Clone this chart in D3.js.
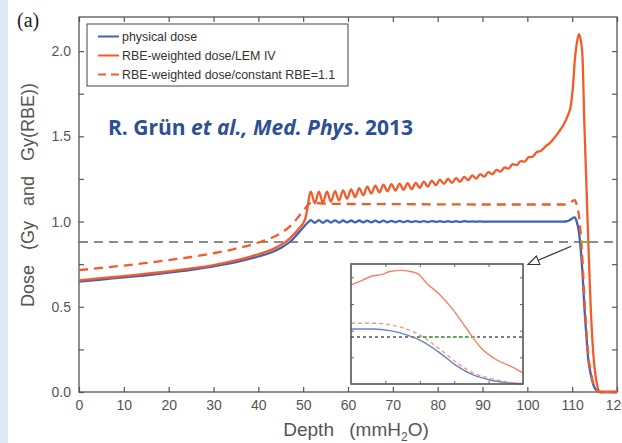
<!DOCTYPE html>
<html>
<head>
<meta charset="utf-8">
<script src="https://cdn.jsdelivr.net/npm/d3@7"></script>
<style>
  body { margin: 0; background: #fff; }
  svg text { font-family: "Liberation Sans", Arial, sans-serif; }
</style>
</head>
<body>
<div id="chart"></div>
<script>
// depth grid shared by physical dose and LEM IV curves (mm H2O)
var depth = [0, 5, 10, 15, 20, 25, 30, 35, 40, 43, 45, 47, 48, 49, 50, 50.5, 51, 51.3,
  51.7, 52.6, 53.5, 54.4, 55.3, 56.2, 57.1, 58.0, 58.9, 59.8,
  60.7, 61.6, 62.5, 63.4, 64.3, 65.2, 66.1, 67.0, 67.9, 68.8,
  69.7, 70.6, 71.5, 72.4, 73.3, 74.2, 75.1, 76.0, 76.9, 77.8,
  78.7, 79.6, 80.5, 81.4, 82.3, 83.2, 84.1, 85.0, 85.9, 86.8,
  87.7, 88.6, 89.5, 90.4, 91.3, 92.2, 93.1, 94.0, 94.9, 95.8,
  96.7, 97.6, 98.5, 99.4, 100.3, 101.2, 102.1, 103.0,
  104, 105, 106, 107, 108, 109, 109.7, 110.2, 110.6, 111.0, 111.5, 112.0, 112.3, 112.7,
  113.2, 113.6, 114.1, 114.7, 115.5, 116.2, 117, 120];

var physical = [0.647, 0.66, 0.672, 0.685, 0.70, 0.717, 0.737, 0.762, 0.795, 0.82, 0.845, 0.88, 0.905, 0.935, 0.965, 0.98, 0.993, 1.0,
  1.008, 0.993, 1.008, 0.993, 1.007, 0.994, 1.007, 0.994, 1.006, 0.995,
  1.006, 0.995, 1.006, 0.995, 1.005, 0.995, 1.005, 0.996, 1.005, 0.996,
  1.004, 0.996, 1.004, 0.997, 1.004, 0.997, 1.003, 0.997, 1.003, 0.997,
  1.003, 0.998, 1.002, 0.998, 1.002, 0.998, 1.002, 0.998, 1.002, 0.999,
  1.001, 0.999, 1.001, 0.999, 1.0, 1.0, 1.0, 1.0, 1.0, 1.0,
  1.0, 1.0, 1.0, 1.0, 1.0, 1.0, 1.0, 1.0,
  1.0, 1.0, 1.0, 1.0, 1.0, 1.003, 1.012, 1.022, 1.025, 1.0, 0.94, 0.81, 0.70, 0.51,
  0.32, 0.19, 0.11, 0.045, 0.008, 0, 0, 0];

var lemIV = [0.655, 0.668, 0.68, 0.694, 0.708, 0.725, 0.745, 0.772, 0.808, 0.835, 0.862, 0.9, 0.927, 0.958, 0.99, 1.02, 1.085, 1.14,
  1.175, 1.107, 1.175, 1.111, 1.175, 1.116, 1.178, 1.124, 1.183, 1.134,
  1.188, 1.144, 1.196, 1.154, 1.204, 1.164, 1.211, 1.171, 1.216, 1.177,
  1.22, 1.181, 1.222, 1.186, 1.225, 1.19, 1.227, 1.197, 1.234, 1.205,
  1.24, 1.213, 1.246, 1.221, 1.25, 1.227, 1.255, 1.233, 1.262, 1.243,
  1.27, 1.252, 1.278, 1.263, 1.29, 1.278, 1.303, 1.293, 1.317, 1.31,
  1.336, 1.331, 1.355, 1.351, 1.378, 1.381, 1.408, 1.414,
  1.44, 1.46, 1.49, 1.525, 1.565, 1.62, 1.68, 1.80, 1.95, 2.04, 2.10, 2.05, 1.97, 1.59,
  1.20, 0.88, 0.52, 0.23, 0.05, 0, 0, 0];

// constant RBE = 1.1 curve, own grid
var constDepth = [0, 5, 10, 15, 20, 25, 30, 35, 40, 43, 45, 47, 48, 49, 50, 50.5, 51, 51.5, 52, 55, 60, 70, 80, 90, 100, 105, 108,
  109, 109.7, 110.2, 110.6, 111.0, 111.5, 112.0, 112.3, 112.7, 113.2, 113.6, 114.1, 114.7, 115.5, 116.2, 120];
var constRBE = [0.715, 0.728, 0.742, 0.757, 0.774, 0.792, 0.814, 0.841, 0.877, 0.905, 0.932, 0.97, 0.997, 1.03, 1.063, 1.08, 1.095, 1.107, 1.11, 1.105, 1.103, 1.102, 1.101, 1.1, 1.1, 1.1, 1.1,
  1.104, 1.113, 1.123, 1.125, 1.10, 1.035, 0.895, 0.775, 0.565, 0.355, 0.215, 0.125, 0.052, 0.01, 0, 0];

var threshold = 0.88;
var greenSpan = [111.8, 113.6];

// inset (zoom of distal fall-off)
var insetLemDepth = [110, 110.31, 110.65, 110.89, 111.13, 111.47, 111.72, 111.96, 112.2, 112.59, 112.97, 113.36, 113.75, 114.24, 114.62, 115.0];
var insetLem = [1.86, 1.94, 2.03, 2.05, 2.11, 2.13, 2.11, 2.06, 1.89, 1.67, 1.39, 1.04, 0.70, 0.45, 0.34, 0.21];
var insetDepth = [110, 110.65, 111.13, 111.62, 112.1, 112.59, 113.07, 113.55, 114.04, 114.53, 115.0];
var insetConst = [1.14, 1.14, 1.11, 1.03, 0.88, 0.65, 0.40, 0.21, 0.11, 0.04, 0.01];
var insetPhys = [1.03, 1.03, 1.0, 0.92, 0.79, 0.58, 0.34, 0.17, 0.075, 0.025, 0.0];
var insetGreen = [111.77, 113.6];

var xTicks = d3.range(0, 121, 10);
var yTicks = d3.range(0, 2.01, 0.25);
var legendLabels = ["physical dose", "RBE-weighted dose/LEM IV", "RBE-weighted dose/constant RBE=1.1"];

var blue = "#4262b6";
var orange = "#f25b2a";

var svgWidth = 622;
var svgHeight = 443;
var margin = { top: 17, right: 5, bottom: 51, left: 79 };
var width = svgWidth - margin.left - margin.right;
var height = svgHeight - margin.top - margin.bottom;

var svg = d3.select("#chart").append("svg")
  .attr("width", svgWidth)
  .attr("height", svgHeight);

// light blue slide strip at the left
svg.append("rect").attr("x", 0).attr("y", 0).attr("width", 8).attr("height", svgHeight).attr("fill", "#dfe9f6");

svg.append("text")
  .attr("x", 17).attr("y", 27)
  .style("font-family", "'Liberation Serif', serif")
  .style("font-size", "20px")
  .attr("fill", "#222")
  .text("(a)");

var chartGroup = svg.append("g")
  .attr("transform", `translate(${margin.left}, ${margin.top})`);

var x = d3.scaleLinear().domain([0, 120]).range([0, width]);
var y = d3.scaleLinear().domain([0, 2.2]).range([height, 0]);

// axes, ticks pointing inward
var bottomAxis = d3.axisBottom(x).tickValues(xTicks).tickSizeInner(-5).tickSizeOuter(0).tickPadding(8).tickFormat(d3.format("d"));
var topAxis = d3.axisTop(x).tickValues(xTicks).tickSizeInner(-5).tickSizeOuter(0).tickFormat("");
var leftAxis = d3.axisLeft(y).tickValues(yTicks).tickSizeInner(-5).tickSizeOuter(0).tickPadding(8)
  .tickFormat(d => (d * 2) % 1 === 0 ? d3.format(".1f")(d) : "");
var rightAxis = d3.axisRight(y).tickValues(yTicks).tickSizeInner(-5).tickSizeOuter(0).tickFormat("");

function styleAxis(g) {
  g.select(".domain").remove();
  g.selectAll("line").attr("stroke", "#555").attr("stroke-width", 1.2);
  g.selectAll("text").attr("fill", "#555").style("font-size", "14px");
}

chartGroup.append("g").attr("transform", `translate(0, ${height})`).call(bottomAxis).call(styleAxis);
chartGroup.append("g").call(topAxis).call(styleAxis);
chartGroup.append("g").call(leftAxis).call(styleAxis);
chartGroup.append("g").attr("transform", `translate(${width}, 0)`).call(rightAxis).call(styleAxis);

chartGroup.append("rect")
  .attr("width", width).attr("height", height)
  .attr("fill", "none").attr("stroke", "#555").attr("stroke-width", 1.3);

// axis titles
svg.append("text")
  .attr("transform", `translate(34, 195) rotate(-90)`)
  .attr("text-anchor", "middle")
  .attr("fill", "#555")
  .style("font-size", "18px")
  .style("word-spacing", "10px")
  .text("Dose (Gy and Gy(RBE))");

var xTitle = svg.append("text")
  .attr("x", 356).attr("y", 436)
  .attr("text-anchor", "middle")
  .attr("fill", "#555")
  .style("font-size", "19px")
  .style("word-spacing", "10px");
xTitle.append("tspan").text("Depth (mmH");
xTitle.append("tspan").attr("dy", 5).style("font-size", "12px").text("2");
xTitle.append("tspan").attr("dy", -5).text("O)");

// threshold line
chartGroup.append("line")
  .attr("x1", x(0)).attr("x2", x(120))
  .attr("y1", y(threshold)).attr("y2", y(threshold))
  .attr("stroke", "#666").attr("stroke-width", 1.6).attr("stroke-dasharray", "9,6");

var line = d3.line().x(d => x(d[0])).y(d => y(d[1])).curve(d3.curveMonotoneX);

chartGroup.append("path")
  .attr("d", line(d3.zip(depth, physical)))
  .attr("fill", "none").attr("stroke", blue).attr("stroke-width", 2.3);

chartGroup.append("path")
  .attr("d", line(d3.zip(depth, lemIV)))
  .attr("fill", "none").attr("stroke", orange).attr("stroke-width", 2.3);

chartGroup.append("path")
  .attr("d", line(d3.zip(constDepth, constRBE)))
  .attr("fill", "none").attr("stroke", orange).attr("stroke-width", 2.3)
  .attr("stroke-dasharray", "9,6");

chartGroup.append("line")
  .attr("x1", x(greenSpan[0])).attr("x2", x(greenSpan[1]))
  .attr("y1", y(threshold)).attr("y2", y(threshold))
  .attr("stroke", "#6cc04a").attr("stroke-width", 2);

// legend
var legend = chartGroup.append("g").attr("transform", "translate(8, 7)");
legend.append("rect")
  .attr("width", 261).attr("height", 62)
  .attr("fill", "#fff").attr("stroke", "#555").attr("stroke-width", 1.1);
var rows = legend.selectAll("g.row").data(legendLabels).enter().append("g")
  .attr("class", "row")
  .attr("transform", (d, i) => `translate(0, ${12.5 + i * 19})`);
rows.append("line")
  .attr("x1", 11).attr("x2", 32).attr("y1", 0).attr("y2", 0)
  .attr("stroke", (d, i) => i === 0 ? blue : orange)
  .attr("stroke-width", 2)
  .attr("stroke-dasharray", (d, i) => i === 2 ? "8,5" : null);
rows.append("text")
  .attr("x", 35).attr("y", 4.5)
  .attr("fill", "#333")
  .style("font-size", "12.4px")
  .text(d => d);

// citation
var cite = svg.append("text")
  .attr("x", 108).attr("y", 135)
  .attr("fill", "#2d4f94")
  .style("font-family", "'Open Sans', sans-serif")
  .style("font-weight", "bold")
  .style("font-size", "21px");
cite.append("tspan").text("R. Grün ");
cite.append("tspan").style("font-style", "italic").text("et al., Med. Phys");
cite.append("tspan").text(". 2013");

// inset
var inset = { left: 351, top: 264, width: 172, height: 120 };
var insetGroup = svg.append("g").attr("transform", `translate(${inset.left}, ${inset.top})`);
var ix = d3.scaleLinear().domain([110, 115]).range([0, inset.width]);
var iy = d3.scaleLinear().domain([0, 2.25]).range([inset.height, 0]);

insetGroup.append("rect")
  .attr("width", inset.width).attr("height", inset.height)
  .attr("fill", "#fff");

var insetXTicks = d3.range(111, 115, 1);
var insetYTicks = d3.range(0.5, 2.01, 0.5);
function styleInset(g) {
  g.select(".domain").remove();
  g.selectAll("line").attr("stroke", "#666").attr("stroke-width", 1);
}
insetGroup.append("g").attr("transform", `translate(0, ${inset.height})`)
  .call(d3.axisBottom(ix).tickValues(insetXTicks).tickSizeInner(-3).tickSizeOuter(0).tickFormat("")).call(styleInset);
insetGroup.append("g")
  .call(d3.axisTop(ix).tickValues(insetXTicks).tickSizeInner(-3).tickSizeOuter(0).tickFormat("")).call(styleInset);
insetGroup.append("g")
  .call(d3.axisLeft(iy).tickValues(insetYTicks).tickSizeInner(-3).tickSizeOuter(0).tickFormat("")).call(styleInset);
insetGroup.append("g").attr("transform", `translate(${inset.width}, 0)`)
  .call(d3.axisRight(iy).tickValues(insetYTicks).tickSizeInner(-3).tickSizeOuter(0).tickFormat("")).call(styleInset);

var iline = d3.line().x(d => ix(d[0])).y(d => iy(d[1])).curve(d3.curveMonotoneX);

insetGroup.append("line")
  .attr("x1", ix(110)).attr("x2", ix(115))
  .attr("y1", iy(threshold)).attr("y2", iy(threshold))
  .attr("stroke", "#555").attr("stroke-width", 1.5).attr("stroke-dasharray", "3,3");
insetGroup.append("line")
  .attr("x1", ix(insetGreen[0])).attr("x2", ix(insetGreen[1]))
  .attr("y1", iy(threshold)).attr("y2", iy(threshold))
  .attr("stroke", "#5cb840").attr("stroke-width", 1.5).attr("stroke-dasharray", "3,3");

insetGroup.append("path")
  .attr("d", iline(d3.zip(insetDepth, insetPhys)))
  .attr("fill", "none").attr("stroke", "#6c80c8").attr("stroke-width", 1.4);
insetGroup.append("path")
  .attr("d", iline(d3.zip(insetDepth, insetConst)))
  .attr("fill", "none").attr("stroke", "#f29a80").attr("stroke-width", 1.4).attr("stroke-dasharray", "4,3");
insetGroup.append("path")
  .attr("d", iline(d3.zip(insetLemDepth, insetLem)))
  .attr("fill", "none").attr("stroke", "#f08466").attr("stroke-width", 1.4);

insetGroup.append("rect")
  .attr("width", inset.width).attr("height", inset.height)
  .attr("fill", "none").attr("stroke", "#555").attr("stroke-width", 1.6);

// arrow from fall-off region to the inset
var arrowStart = [margin.left + x(109.8), margin.top + y(0.855)];
var arrowTip = [inset.left + inset.width + 5, inset.top + 0.5];
var ang = Math.atan2(arrowTip[1] - arrowStart[1], arrowTip[0] - arrowStart[0]);
var headLen = 11, headHalf = 4.5;
var baseX = arrowTip[0] - headLen * Math.cos(ang), baseY = arrowTip[1] - headLen * Math.sin(ang);
svg.append("line")
  .attr("x1", arrowStart[0]).attr("y1", arrowStart[1])
  .attr("x2", baseX).attr("y2", baseY)
  .attr("stroke", "#333").attr("stroke-width", 1.3);
svg.append("polygon")
  .attr("points", [
    arrowTip,
    [baseX + headHalf * Math.sin(ang), baseY - headHalf * Math.cos(ang)],
    [baseX - headHalf * Math.sin(ang), baseY + headHalf * Math.cos(ang)]
  ].map(p => p.join(",")).join(" "))
  .attr("fill", "#fff").attr("stroke", "#333").attr("stroke-width", 1.1);
</script>
</body>
</html>
